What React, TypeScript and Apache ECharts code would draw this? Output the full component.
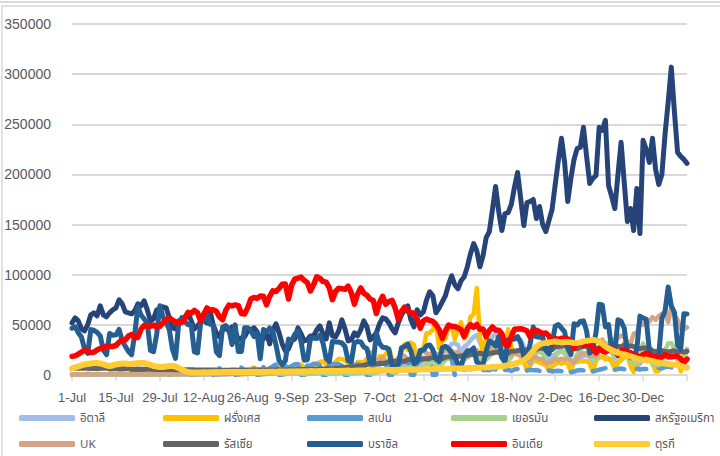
import React, { useEffect, useRef } from "react";
import * as echarts from "echarts";

const MONTHS = ["Jan", "Feb", "Mar", "Apr", "May", "Jun", "Jul", "Aug", "Sep", "Oct", "Nov", "Dec"];
const DAY_COUNT = 197; // 1-Jul-2020 .. 13-Jan-2021
const categories: string[] = [];
for (let i = 0; i < DAY_COUNT; i++) {
  const d = new Date(Date.UTC(2020, 6, 1 + i));
  categories.push(`${d.getUTCDate()}-${MONTHS[d.getUTCMonth()]}`);
}

const yTicks = [0, 50000, 100000, 150000, 200000, 250000, 300000, 350000];

const italy = [
  182, 201, 223, 235, 192, 208, 193, 229, 276, 211, 188, 234, 169, 114, 163, 230, 233, 249, 219, 190, 129, 282, 306, 252, 275, 255, 170, 212, 289, 386, 379,
  295, 239, 159, 190, 384, 402, 552, 347, 463, 259, 412, 481, 523, 574, 629, 479, 320, 403, 642, 845, 947, 1071, 1210, 1209, 953, 1367, 1411, 1462, 1444, 1365, 996,
  978, 1326, 1397, 1733, 1695, 1297, 1108, 1370, 1434, 1597, 1616, 1501, 1458, 1008, 1229, 1452, 1585, 1907, 1638, 1587, 1350, 1392, 1640, 1786, 1869, 1912, 1766, 1494, 1648, 1851,
  2548, 2499, 2844, 2578, 2257, 2677, 3678, 4458, 5372, 5724, 5456, 4619, 5901, 7332, 8804, 10010, 10925, 11705, 9338, 10874, 15199, 16079, 19143, 19644, 21273, 17012, 21994, 24991, 26831, 31084, 31758,
  29907, 22253, 28244, 30550, 34505, 37809, 39811, 32616, 25271, 35098, 32961, 37978, 40902, 37255, 33979, 27354, 32191, 34283, 36176, 37242, 34767, 28337, 22930, 23232, 25853, 29003, 28352, 26323, 20648, 16377,
  19350, 20709, 23225, 24099, 21052, 18887, 13720, 14842, 12756, 16999, 18727, 19903, 17938, 12030, 14844, 17572, 18236, 17992, 16308, 15104, 10872, 13318, 14522, 18040, 19037, 10407, 8913, 8585, 11212, 16202, 23477,
  22211, 11831, 14245, 10800, 15378, 20331, 18020, 17533, 19978, 18627, 12532, 14242, 15774,
];

const france = [
  570, 600, 580, 500, 300, 280, 590, 620, 660, 700, 680, 560, 400, 300, 720, 800, 980, 1000, 500, 450, 790, 1010, 1000, 1130, 1100, 500, 600, 1390, 1390, 1380, 1350,
  1300, 600, 760, 1700, 1700, 1980, 2290, 2290, 800, 900, 1900, 2520, 2670, 2800, 3300, 1500, 1300, 3780, 4000, 4300, 4590, 4600, 1800, 1500, 5430, 5430, 6110, 7380, 5450, 5410, 1800,
  4800, 7000, 7160, 8900, 8550, 7070, 4200, 6540, 8580, 9840, 9400, 10560, 7180, 6160, 7850, 10000, 10590, 13220, 13500, 10570, 5300, 10010, 13070, 16100, 15800, 14410, 11120, 4100, 8050, 12850,
  13000, 12150, 16800, 12600, 5100, 10490, 18750, 18130, 20340, 26680, 16100, 8500, 12990, 22590, 30620, 25090, 32430, 29840, 13240, 20470, 26680, 41620, 42030, 45420, 52010, 26770, 33420, 36440, 47640, 49220, 35640,
  46290, 52520, 36440, 40560, 58050, 60490, 86850, 38620, 20160, 35880, 33560, 25000, 32100, 22810, 27230, 9410, 45520, 28380, 21150, 22880, 17880, 13160, 4450, 9160, 14060, 13560, 12580, 11020, 9780, 4010,
  8080, 10930, 12700, 11220, 12920, 11020, 3410, 13710, 14590, 13750, 13410, 13940, 11530, 3040, 14060, 17620, 18250, 15670, 16560, 12800, 5890, 11800, 15400, 17900, 20260, 8820, 3090, 11390, 19930, 18500, 20040,
  25000, 12490, 3470, 4020, 20430, 25300, 21700, 20000, 19700, 15940, 3700, 19750, 23350,
];

const spain = [
  400, 600, 500, 0, 0, 1200, 600, 800, 900, 900, 0, 0, 1400, 900, 1100, 1500, 1400, 0, 0, 2000, 1600, 2100, 2600, 2300, 0, 0, 3500, 2000, 2000, 1200, 1500,
  0, 0, 3500, 2300, 2500, 2900, 4500, 0, 0, 4900, 3600, 3700, 3800, 4600, 0, 0, 6600, 3400, 3700, 3600, 4500, 0, 0, 7400, 4200, 3800, 3800, 6400, 0, 0, 8000,
  4400, 6700, 8700, 10400, 0, 0, 8900, 7100, 8900, 10800, 10900, 0, 0, 9400, 9400, 11200, 11300, 9600, 0, 0, 10900, 10800, 10700, 10700, 9300, 0, 0, 11300, 9600, 10800,
  9400, 10000, 0, 0, 10500, 11000, 10500, 12400, 11800, 0, 0, 10600, 10300, 11900, 13300, 15200, 0, 0, 12400, 13900, 16900, 16500, 18000, 0, 0, 14000, 16500, 18400, 17000, 16200, 0,
  null, 6000, 5500, 6200, 5800, 6500, null, null, 5000, 5200, 4800, 6100, 5600, null, null, 4900, 5300, 4000, 5500, 6000, null, null, 4500, 5200, 4800, 5000, 4100, null, null, 4600,
  3500, 4000, 4200, 3800, null, null, 2800, 3500, 4500, 5000, 4600, null, null, 3900, 4300, 5200, 6000, 6800, null, null, 5300, 6000, 6500, 5800, null, null, null, 6200, 5500, 6100, 5900,
  null, null, null, 7000, 6500, 8100, 8500, 7500, null, null, 9100, 8400, 8200,
];

const germany = [
  466, 442, 422, 322, 230, 298, 397, 442, 413, 429, 382, 226, 159, 374, 419, 534, 583, 410, 292, 250, 454, 569, 815, 781, 610, 305, 340, 633, 684, 902, 870,
  955, 240, 509, 879, 741, 1045, 1147, 1122, 436, 436, 966, 1226, 1445, 1449, 1415, 625, 561, 1390, 1510, 1707, 2034, 1427, 782, 711, 1576, 1507, 1571, 1479, 1479, 785, 610,
  1218, 1256, 1311, 1453, 1378, 988, 814, 1499, 1176, 1892, 1484, 1630, 940, 927, 1407, 1901, 2194, 1916, 2297, 1345, 922, 1769, 1769, 2143, 2507, 1810, 1192, 1192, 2089, 1798,
  2503, 2673, 2563, 1411, 1382, 2639, 3794, 4058, 4516, 4721, 2467, 1971, 4122, 5132, 6638, 7334, 7830, 4325, 4325, 6868, 7595, 11287, 11242, 14714, 8685, 6868, 11409, 14964, 16774, 18681, 19059,
  11409, 12097, 15352, 17214, 19990, 21506, 23399, 16017, 13363, 15332, 18487, 21866, 23542, 22461, 16947, 10824, 14419, 17561, 22609, 23648, 22964, 15741, 13554, 13604, 18633, 22268, 22806, 21695, 14611, 11169,
  13604, 17270, 22046, 23449, 23318, 17767, 12332, 14054, 20815, 23679, 29875, 28438, 20200, 16362, 14432, 27728, 33777, 31300, 31300, 22771, 16643, 19528, 24740, 32195, 24862, 14455, 11301, 12892, 21947, 31553, 24126,
  22924, 10315, 10240, 9847, 11897, 23770, 31443, 31849, 26391, 17346, 14612, 14424, 26113,
];

const usa = [
  52000, 57000, 54000, 46000, 44000, 50000, 60000, 62000, 59000, 69000, 60000, 58000, 62000, 65000, 67000, 75000, 71000, 63000, 62000, 61000, 64000, 71000, 69000, 74000, 65000, 54000, 56000, 65000, 65000, 68000, 67000,
  57000, 47000, 46000, 54000, 53000, 58000, 62000, 54000, 46000, 49000, 53000, 55000, 52000, 64000, 50000, 42000, 38000, 45000, 47000, 44000, 48000, 44000, 35000, 37000, 38000, 44000, 45000, 47000, 43000, 35000, 36000,
  42000, 31000, 44000, 51000, 42000, 31000, 24000, 26000, 34000, 36000, 47000, 41000, 34000, 35000, 39000, 39000, 45000, 49000, 41000, 36000, 52000, 39000, 38000, 44000, 55000, 46000, 34000, 35000, 42000, 39000,
  45000, 54000, 48000, 35000, 38000, 42000, 51000, 57000, 56000, 52000, 46000, 42000, 52000, 60000, 65000, 69000, 55000, 48000, 65000, 60000, 63000, 75000, 83000, 79000, 62000, 67000, 73000, 79000, 90000, 99000, 90000,
  86000, 94000, 98000, 108000, 121000, 131000, 124000, 108000, 119000, 137000, 143000, 165000, 188000, 163000, 144000, 161000, 162000, 170000, 187000, 202000, 176000, 149000, 172000, 173000, 175000, 156000, 168000, 150000, 143000, 154000,
  165000, 190000, 214000, 236000, 212000, 173000, 196000, 215000, 226000, 227000, 247000, 218000, 191000, 196000, 199000, 247000, 244000, 254000, 189000, 178000, 166000, 200000, 232000, 192000, 153000, 166000, 144000, 186000, 141000, 234000, 225000,
  212000, 236000, 205000, 190000, 200000, 240000, 272000, 307000, 262000, 222000, 218000, 215000, 211000,
];

const uk = [
  829, 576, 624, 516, 516, 352, 581, 630, 512, 642, 820, 650, 530, 539, 538, 642, 687, 827, 725, 580, 445, 560, 769, 768, 767, 747, 685, 581, 763, 846, 880,
  771, 744, 938, 670, 892, 950, 871, 758, 1062, 816, 1148, 1009, 814, 1441, 1012, 1040, 713, 1182, 812, 1089, 1182, 1288, 1041, 853, 1184, 1048, 1522, 1276, 1108, 1715, 1276,
  1295, 1508, 1735, 1940, 2988, 2948, 2948, 2460, 2659, 2919, 3539, 3497, 3330, 2621, 3105, 3991, 3395, 4322, 4422, 3899, 4368, 4926, 6178, 6634, 6874, 6042, 5693, 4044, 7143, 7108,
  6914, 6968, 12872, 22961, 14542, 14542, 14162, 17540, 13864, 15166, 12872, 13972, 17234, 19724, 18980, 15650, 16171, 16982, 18804, 21331, 26688, 21242, 20530, 23012, 19790, 20890, 22885, 24701, 23065, 24405, 21915,
  23254, 18950, 20018, 25177, 24141, 23287, 24957, 20572, 21350, 20412, 22950, 33470, 27301, 26860, 24962, 21363, 20051, 19609, 22915, 20252, 19875, 18662, 15450, 11299, 18565, 17555, 16022, 15871, 12155, 12330,
  13430, 16170, 14879, 16298, 15539, 17272, 14718, 12282, 16578, 20964, 21672, 21502, 18447, 20263, 18450, 25161, 35383, 28507, 27052, 35928, 33364, 36804, 39237, 37977, 32725, 30501, 41385, 41385, 53135, 50023, 55892,
  53285, 57725, 54990, 58784, 60916, 62322, 52618, 68053, 59937, 54940, 46169, 45533, 47525,
];

const russia = [
  6556, 6760, 6718, 6632, 6736, 6611, 6368, 6562, 6509, 6635, 6611, 6615, 6537, 6248, 6422, 6428, 6406, 6234, 6109, 5940, 5842, 5862, 5811, 5848, 5871, 5765, 5635, 5475, 5509, 5482, 5462,
  5427, 5394, 5159, 5204, 5241, 5212, 5267, 5241, 5118, 5102, 5102, 5041, 5065, 5061, 5057, 4969, 4839, 4748, 4828, 4785, 4870, 4921, 4852, 4676, 4696, 4744, 4711, 4829, 4980, 4897, 4729,
  4729, 4952, 4995, 5110, 5205, 5195, 5099, 5185, 5172, 5363, 5406, 5449, 5488, 5509, 5529, 5670, 5762, 5905, 6065, 6148, 6196, 6215, 6431, 6595, 7212, 7523, 7867, 8135, 8232, 8481,
  8945, 9412, 10499, 10888, 10888, 11115, 11615, 11493, 12126, 12846, 13634, 13592, 13868, 14231, 13754, 15150, 15099, 15982, 15700, 15982, 15971, 15971, 16521, 17340, 17347, 16550, 16202, 17717, 18283, 17717, 18140,
  18665, 18648, 19768, 19404, 20582, 20498, 20977, 21798, 20977, 19851, 21608, 21983, 22702, 22778, 22572, 22410, 21983, 23610, 23675, 24318, 24581, 24822, 25173, 24326, 23675, 25487, 27100, 26338, 26683, 26402,
  25345, 28145, 28209, 28782, 29039, 28137, 28137, 26097, 26190, 27927, 28585, 28585, 29350, 28080, 26689, 26509, 27543, 28214, 28552, 28948, 29258, 28776, 27787, 29935, 28551, 29018, 28284, 26513, 26301, 27039, 27039,
  26513, 24150, 23351, 23309, 24217, 23541, 22851, 23652, 24092, 22934, 23315, 22857, 23652,
];

const brazil = [
  46700, 48100, 42200, 37900, 26100, 21500, 45300, 44600, 42600, 39000, 24800, 20300, 41400, 39700, 40000, 45400, 34200, 28500, 23500, 20300, 41000, 67900, 59900, 55900, 51100, 24600, 23300, 40800, 69100, 57800, 52400,
  45400, 25800, 16600, 51600, 57200, 53100, 50200, 49900, 23000, 22000, 52100, 55200, 60100, 50600, 49300, 23100, 19400, 47800, 49300, 45300, 30400, 50000, 23400, 23400, 47100, 47200, 44200, 38400, 41400, 16200, 45400,
  42600, 46900, 43800, 30200, 14500, 10300, 14300, 35800, 34100, 40600, 43700, 33500, 14800, 15200, 36700, 36800, 36300, 39800, 31900, 16400, 13400, 33500, 33000, 32800, 31900, 28400, 14300, 13200, 32100, 33400,
  33000, 28000, 26200, 13100, 11800, 41900, 31500, 27700, 27400, 25600, 8000, 8400, 10200, 27200, 28500, 30900, 24000, 11100, 13400, 24800, 24600, 29000, 30000, 25200, 15700, 13500, 27200, 28600, 26100, 21900, 18900,
  10100, 8500, 18900, 23900, 24000, 26900, 13100, 10900, 10600, 23900, 33900, 32000, 29000, 38300, 17300, 13400, 35300, 35900, 36000, 38300, 32300, 18600, 16200, 31100, 47900, 38000, 37600, 37800, 24500, 21100,
  31100, 48600, 50400, 46900, 43000, 26400, 20300, 51100, 49900, 53300, 54000, 43900, 21800, 25200, 42400, 70600, 69800, 48000, 50200, 25000, 23500, 55000, 53500, 46600, 22900, 17300, 18500, 25600, 58700, 56800, 55600,
  24600, 15800, 17300, 20000, 56600, 63500, 87800, 69000, 62300, 29800, 25800, 61000, 60900,
];

const india = [
  18600, 19100, 20900, 22700, 24900, 24200, 22300, 22800, 24900, 26500, 27100, 28600, 28700, 28500, 29400, 32700, 34900, 34900, 38900, 40400, 37100, 37700, 45700, 49300, 48900, 48700, 49900, 47700, 48500, 52100, 55100,
  57100, 54700, 52900, 52000, 52500, 56300, 62500, 61500, 64400, 62100, 53600, 60900, 66900, 64600, 65000, 63500, 57900, 55100, 64500, 69700, 68900, 69900, 69200, 61400, 60900, 67200, 75800, 77300, 76500, 78800, 78500,
  69900, 78400, 83900, 83300, 86400, 90600, 90800, 75800, 89700, 95700, 96600, 97600, 94400, 92100, 83800, 90100, 97900, 96400, 93300, 92600, 86900, 75100, 83300, 86500, 86100, 85400, 88600, 82200, 70600, 80500,
  86800, 81500, 79500, 75800, 74400, 61300, 72000, 78500, 70500, 73300, 74400, 66700, 55300, 63500, 67700, 63400, 62200, 61900, 55700, 46800, 54000, 55800, 54400, 53400, 50100, 45100, 36500, 43900, 49900, 48600, 48300,
  46900, 45200, 38300, 46300, 50200, 47600, 50400, 45700, 45900, 38100, 44300, 47900, 44900, 44700, 41100, 30500, 29200, 38600, 45600, 45900, 46200, 45200, 44100, 37900, 44400, 44500, 43100, 41300, 41800, 38800,
  31100, 36600, 35600, 36600, 36700, 36000, 32900, 26600, 32100, 31500, 29400, 30000, 30300, 27100, 22100, 26400, 24000, 22900, 25200, 26600, 24300, 19600, 23900, 24700, 23100, 22300, 18700, 20000, 16400, 20500, 21800,
  20000, 19100, 18200, 16500, 18100, 20300, 18100, 18100, 18600, 18600, 16300, 12600, 15900,
];

const turkey = [
  6500, 7500, 8500, 9500, 10500, 11000, 11500, 12000, 12000, 11500, 10500, 9500, 9000, 9500, 10500, 11000, 11500, 11500, 11000, 11000, 11500, 12000, 12000, 12000, 11000, 10000, 9000, 8500, 8000, 8000, 8500,
  9000, 9000, 8500, 7000, 5500, 4000, 3000, 2500, 2600, 2400, 2500, 2700, 2600, 2800, 2700, 2900, 2800, 2900, 3000, 2900, 3100, 3000, 3000, 3100, 2900, 3100, 3200, 3000, 3200, 3100, 3200,
  3000, 3200, 3300, 3100, 3400, 3500, 3300, 3600, 3400, 3500, 3700, 3600, 3800, 3500, 3900, 3700, 3800, 4000, 3900, 4100, 3900, 4200, 4000, 4100, 4300, 4200, 4400, 4100, 4300, 4500,
  4400, 4600, 4500, 4700, 4600, 4800, 4900, 4700, 5000, 4900, 5100, 5000, 5200, 5300, 5100, 5400, 5300, 5500, 5600, 5400, 5700, 5800, 5600, 5900, 6000, 6100, 5900, 6200, 6300, 6500, 6400,
  6500, 6600, 6800, 6900, 7000, 7100, 7200, 7300, 7500, 7600, 7800, 8000, 8200, 8500, 8800, 9200, 9800, 10500, 11200, 12000, 13200, 14800, 17000, 20500, 24000, 28000, 30500, 31500, 32000, 32500,
  33000, 33500, 33000, 32500, 32800, 33000, 32500, 31800, 32000, 32500, 33500, 34000, 34500, 35000, 34500, 33500, 31000, 28500, 26500, 25000, 23500, 22000, 21000, 20500, 19500, 18500, 17500, 16500, 15800, 15200, 14800,
  14500, 13800, 13000, 12500, 12000, 11500, 11000, 10500, 10200, 10000, 9000, 8000, 7200,
];

const seriesNames = ["อิตาลี", "ฝรั่งเศส", "สเปน", "เยอรมัน", "สหรัฐอเมริกา", "UK", "รัสเซีย", "บราซิล", "อินเดีย", "ตุรกี"];
const seriesData = [italy, france, spain, germany, usa, uk, russia, brazil, india, turkey];
const seriesColors = ["#A0BEE8", "#FFC000", "#5B9BD5", "#A9D18E", "#264478", "#D3A584", "#636363", "#255E91", "#FF0000", "#FFCD33"];
const seriesWidths = [4.5, 4.5, 4.5, 4.5, 5, 4.5, 5, 5, 5.5, 6];

const legendCols = [19, 163, 307, 451, 594];
const legendRows = [412, 438];

const AXIS_FONT = "'Liberation Sans', Arial, sans-serif";
const LEGEND_FONT = "Tahoma, 'Noto Sans Thai', 'Leelawadee UI', 'DejaVu Sans', sans-serif";

export default function App() {
  const ref = useRef<HTMLDivElement>(null);
  useEffect(() => {
    document.body.style.margin = "0";
    if (!ref.current) return;
    const chart = echarts.init(ref.current, undefined, { renderer: "svg" });
    chart.setOption({
      animation: false,
      backgroundColor: "#ffffff",
      grid: { left: 72, right: 33, top: 24, bottom: 81, containLabel: false },
      graphic: [
        { type: "line", shape: { x1: 0, y1: 2, x2: 720, y2: 2 }, style: { stroke: "#d9d9d9", lineWidth: 2 }, silent: true },
        { type: "rect", shape: { x: 2, y: 6, width: 760, height: 500 }, style: { stroke: "#d9d9d9", lineWidth: 1.5, fill: "none" }, silent: true },
      ],
      xAxis: {
        type: "category",
        data: categories,
        boundaryGap: false,
        axisLine: { lineStyle: { color: "#d9d9d9", width: 1.5 } },
        axisTick: { show: true, interval: 13, length: 6, lineStyle: { color: "#d9d9d9", width: 1.5 } },
        axisLabel: {
          interval: 13,
          color: "#595959",
          fontSize: 13,
          fontFamily: AXIS_FONT,
          margin: 16,
          formatter: (v: string, i: number) => (i === DAY_COUNT - 1 ? "" : v),
        },
        splitLine: { show: false },
      },
      yAxis: {
        type: "value",
        min: yTicks[0],
        max: yTicks[yTicks.length - 1],
        interval: yTicks[1] - yTicks[0],
        axisLine: { show: false },
        axisTick: { show: false },
        axisLabel: { color: "#595959", fontSize: 14, fontFamily: AXIS_FONT, margin: 21, formatter: (v: number) => String(v) },
        splitLine: { lineStyle: { color: "#d9d9d9", width: 2 } },
      },
      legend: seriesNames.map((name, i) => ({
        data: [name],
        left: legendCols[i % 5],
        top: legendRows[Math.floor(i / 5)],
        itemWidth: 56,
        itemHeight: 6,
        itemGap: 4,
        icon: "roundRect",
        padding: 0,
        selectedMode: false,
        textStyle: { color: "#595959", fontSize: 11.5, fontFamily: LEGEND_FONT },
      })),
      series: seriesNames.map((name, i) => ({
        name,
        type: "line",
        data: seriesData[i],
        showSymbol: false,
        symbol: "none",
        connectNulls: false,
        itemStyle: { color: seriesColors[i] },
        lineStyle: { color: seriesColors[i], width: seriesWidths[i], cap: "round", join: "round" },
      })),
    });
    return () => chart.dispose();
  }, []);
  return <div ref={ref} style={{ width: 720, height: 456 }} />;
}
